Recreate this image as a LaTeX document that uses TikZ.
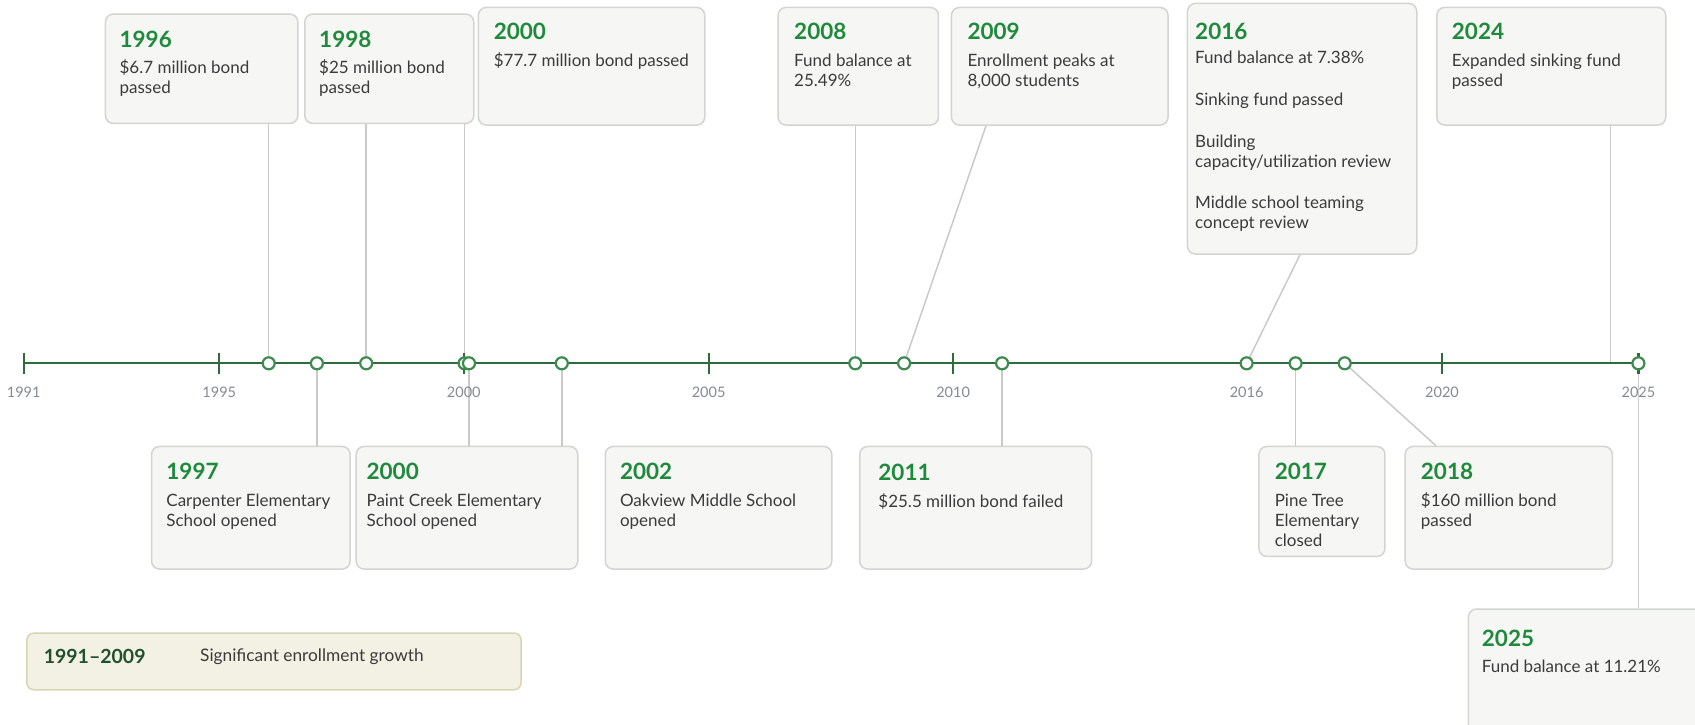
\documentclass[tikz,border=0pt]{standalone}
\usepackage{fontspec}
\setmainfont{Lato}
\definecolor{tlgreen}{HTML}{2F6B3D}
\definecolor{dotgreen}{HTML}{3D8B4E}
\definecolor{yrgreen}{HTML}{1E8A3C}
\definecolor{bodygray}{HTML}{3B3B3B}
\definecolor{lblgray}{HTML}{868A94}
\definecolor{boxfill}{HTML}{F6F6F4}
\definecolor{boxdraw}{HTML}{D2D5D2}
\definecolor{connc}{HTML}{C9CBC9}
\definecolor{legfill}{HTML}{F3F1E4}
\definecolor{legdraw}{HTML}{D6D5B4}
\definecolor{legyr}{HTML}{21502E}
\tikzset{
  box/.style={draw=boxdraw, fill=boxfill, line width=1.5pt, rounded corners=8pt, anchor=north west, inner sep=0pt},
  yr/.style={font=\fontsize{22.5}{26}\selectfont\bfseries, text=yrgreen, anchor=base west, inner sep=0pt},
  body/.style={font=\fontsize{17}{20}\selectfont, text=bodygray, anchor=base west, inner sep=0pt},
  lbl/.style={font=\fontsize{14.5}{16}\selectfont, text=lblgray, inner sep=0pt},
  dot/.style={circle, draw=dotgreen, line width=2.2pt, fill=white, minimum size=12pt, inner sep=0pt},
  conn/.style={draw=connc, line width=1.5pt},
  tl/.style={draw=tlgreen, line width=2.3pt},
  tickmark/.style={draw=tlgreen, line width=2.2pt}
}
\begin{document}
\begin{tikzpicture}[x=1pt,y=-1pt]
\fill[white] (0,0) rectangle (1695,724);
\useasboundingbox (0,0) rectangle (1695,724);

% ---------- boxes (top) ----------
\node[box, minimum width=192.4pt, minimum height=109.4pt] (b1996) at (104.7,13.3) {};
\node[box, minimum width=169pt, minimum height=109.4pt] (b1998) at (304,13.3) {};
\node[box, minimum width=226.4pt, minimum height=117.6pt] (b2000a) at (477.6,6.7) {};
\node[box, minimum width=160.4pt, minimum height=117.6pt] (b2008) at (777.3,6.7) {};
\node[box, minimum width=216.6pt, minimum height=117.6pt] (b2009) at (950.7,6.7) {};
\node[box, minimum width=229.3pt, minimum height=250.6pt] (b2016) at (1186.7,2.7) {};
\node[box, minimum width=229pt, minimum height=117.6pt] (b2024) at (1436,6.7) {};
% ---------- boxes (bottom) ----------
\node[box, minimum width=198.6pt, minimum height=122.6pt] (b1997) at (150.8,445.7) {};
\node[box, minimum width=221.6pt, minimum height=122.6pt] (b2000b) at (355.4,445.7) {};
\node[box, minimum width=226.5pt, minimum height=122.6pt] (b2002) at (604.5,445.7) {};
\node[box, minimum width=231.8pt, minimum height=122.6pt] (b2011) at (859,445.7) {};
\node[box, minimum width=126pt, minimum height=110pt] (b2017) at (1258.2,445.7) {};
\node[box, minimum width=207.2pt, minimum height=122.6pt] (b2018) at (1404.4,445.7) {};
\node[box, minimum width=250pt, minimum height=140pt] (b2025) at (1467.7,608.3) {};

% ---------- texts ----------
\node[yr] (y1996) at (119.4,47.5) {1996};
\node[body] (t1996a) at (119.4,73.2) {\$6.7 million bond};
\node[body] (t1996b) at (119.4,93.8) {passed};
\node[yr] (y1998) at (319,47.5) {1998};
\node[body] (t1998a) at (319,73.2) {\$25 million bond};
\node[body] (t1998b) at (319,93.8) {passed};
\node[yr] (y2000a) at (493.6,39.8) {2000};
\node[body] (t2000a) at (493.6,66.5) {\$77.7 million bond passed};
\node[yr] (y2008) at (794,39.8) {2008};
\node[body] (t2008a) at (794,66.5) {Fund balance at};
\node[body] (t2008b) at (794,86.5) {25.49\%};
\node[yr] (y2009) at (967.3,39.8) {2009};
\node[body] (t2009a) at (967.3,66.5) {Enrollment peaks at};
\node[body] (t2009b) at (967.3,86.5) {8,000 students};
\node[yr] (y2016) at (1195,39.8) {2016};
\node[body] (t2016a) at (1195,63.8) {Fund balance at 7.38\%};
\node[body] (t2016b) at (1195,105.5) {Sinking fund passed};
\node[body] (t2016c) at (1195,147.2) {Building};
\node[body] (t2016d) at (1195,167.2) {capacity/utilization review};
\node[body] (t2016e) at (1195,208.8) {Middle school teaming};
\node[body] (t2016f) at (1195,228.8) {concept review};
\node[yr] (y2024) at (1451.7,39.8) {2024};
\node[body] (t2024a) at (1451.7,66.5) {Expanded sinking fund};
\node[body] (t2024b) at (1451.7,86.5) {passed};

\node[yr] (y1997) at (166.2,479.8) {1997};
\node[body] (t1997a) at (166.2,506.2) {Carpenter Elementary};
\node[body] (t1997b) at (166.2,526.2) {School opened};
\node[yr] (y2000b) at (366.4,479.8) {2000};
\node[body] (t2000b1) at (366.4,506.2) {Paint Creek Elementary};
\node[body] (t2000b2) at (366.4,526.2) {School opened};
\node[yr] (y2002) at (619.8,479.8) {2002};
\node[body] (t2002a) at (619.8,506.2) {Oakview Middle School};
\node[body] (t2002b) at (619.8,526.2) {opened};
\node[yr] (y2011) at (878.2,480.8) {2011};
\node[body] (t2011a) at (878.2,507.8) {\$25.5 million bond failed};
\node[yr] (y2017) at (1274.6,479.8) {2017};
\node[body] (t2017a) at (1274.6,506.2) {Pine Tree};
\node[body] (t2017b) at (1274.6,526.2) {Elementary};
\node[body] (t2017c) at (1274.6,546.5) {closed};
\node[yr] (y2018) at (1420.7,479.8) {2018};
\node[body] (t2018a) at (1420.7,506.2) {\$160 million bond};
\node[body] (t2018b) at (1420.7,526.2) {passed};
\node[yr] (y2025) at (1481.7,646.8) {2025};
\node[body] (t2025a) at (1481.7,672.2) {Fund balance at 11.21\%};

% ---------- legend ----------
\node[draw=legdraw, fill=legfill, line width=1.5pt, rounded corners=7pt, anchor=north west, minimum width=494.2pt, minimum height=56.7pt, inner sep=0pt] (leg) at (26.1,632.3) {};
\node[font=\fontsize{19.5}{22}\selectfont\bfseries, text=legyr, anchor=west, inner sep=0pt] (legyr) at (43.6,656.7) {1991--2009};
\node[font=\fontsize{17.3}{20}\selectfont, text=bodygray, anchor=west, inner sep=0pt] (legtx) at (200,656.7) {Significant enrollment growth};

% ---------- timeline coordinates ----------
\coordinate (k1991) at (23.7,363.3);
\coordinate (k1995) at (219.3,363.3);
\coordinate (k2000) at (463.8,363.3);
\coordinate (k2005) at (708.6,363.3);
\coordinate (k2010) at (953.1,363.3);
\coordinate (k2020) at (1442,363.3);
\coordinate (k2025) at (1638.4,363.3);
\coordinate (t2024) at (1610.6,363.3);

% ---------- circle positions ----------
\path (268.7,363.3) coordinate (p1996);
\path (316.9,363.3) coordinate (p1997);
\path (366.2,363.3) coordinate (p1998);
\path (464.6,363.3) coordinate (p2000a);
\path (469,363.3) coordinate (p2000b);
\path (561.8,363.3) coordinate (p2002);
\path (855.3,363.3) coordinate (p2008);
\path (904.1,363.3) coordinate (p2009);
\path (1002.1,363.3) coordinate (p2011);
\path (1246.6,363.3) coordinate (p2016);
\path (1295.6,363.3) coordinate (p2017);
\path (1344.7,363.3) coordinate (p2018);

% ---------- connectors ----------
\draw[conn] (p1996) -- (b1996.south -| p1996);
\draw[conn] (p1998) -- (b1998.south -| p1998);
\draw[conn] (p2000a) -- (b1998.south -| p2000a);
\draw[conn] (p2008) -- (b2008.south -| p2008);
\draw[conn] (p2009) -- ([xshift=35.3pt]b2009.south west);
\draw[conn] (p2016) -- ([xshift=113.3pt]b2016.south west);
\draw[conn] (t2024) -- (b2024.south -| t2024);
\draw[conn] (p1997) -- (b1997.north -| p1997);
\draw[conn] (p2000b) -- (b2000b.north -| p2000b);
\draw[conn] (p2002) -- (b2002.north -| p2002);
\draw[conn] (p2011) -- (b2011.north -| p2011);
\draw[conn] (p2017) -- (b2017.north -| p2017);
\draw[conn] (p2018) -- ([xshift=31.6pt]b2018.north west);
\draw[conn] (k2025) -- (b2025.north -| k2025);

% ---------- timeline ----------
\draw[tl] (k1991) -- (k2025);
\foreach \k in {1991,1995,2000,2005,2010,2020,2025}
  \draw[tickmark] ([yshift=10.5pt]k\k) -- ([yshift=-10.5pt]k\k);

% ---------- dots ----------
\node[dot] (c1996) at (p1996) {};
\node[dot] (c1997) at (p1997) {};
\node[dot] (c1998) at (p1998) {};
\node[dot] (c2000a) at (p2000a) {};
\node[dot] (c2000b) at (p2000b) {};
\node[dot] (c2002) at (p2002) {};
\node[dot] (c2008) at (p2008) {};
\node[dot] (c2009) at (p2009) {};
\node[dot] (c2011) at (p2011) {};
\node[dot] (c2016) at (p2016) {};
\node[dot] (c2017) at (p2017) {};
\node[dot] (c2018) at (p2018) {};
\node[dot] (c2025) at (k2025) {};

% ---------- tick labels ----------
\node[lbl] (l1991) at (23.7,392) {1991};
\node[lbl] (l1995) at (219.3,392) {1995};
\node[lbl] (l2000) at (463.8,392) {2000};
\node[lbl] (l2005) at (708.6,392) {2005};
\node[lbl] (l2010) at (953.1,392) {2010};
\node[lbl] (l2016) at (1246.6,392) {2016};
\node[lbl] (l2020) at (1442,392) {2020};
\node[lbl] (l2025) at (1638.4,392) {2025};
\end{tikzpicture}
\end{document}
